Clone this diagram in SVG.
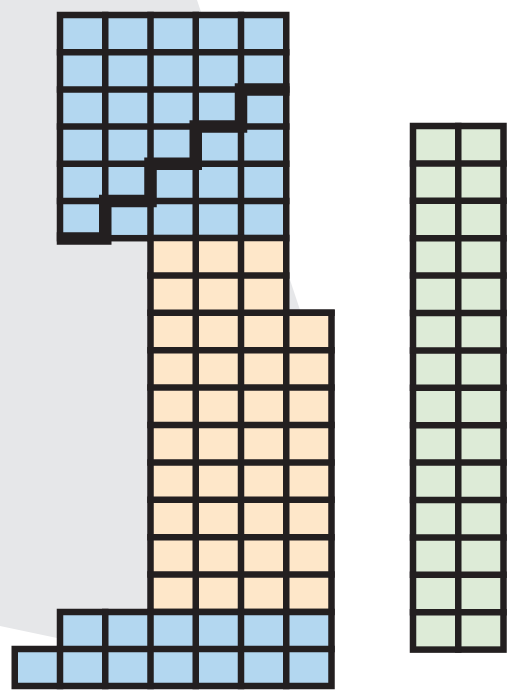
<svg xmlns="http://www.w3.org/2000/svg" width="511" height="697" viewBox="0 0 511 697">
<style>
.ln{fill:none;stroke:#231f20;stroke-width:6.5;stroke-linecap:square}
.blue{fill:#b3d7f0;stroke:#231f20;stroke-width:6.5;stroke-linejoin:miter}
.peach{fill:#fee7c9;stroke:#231f20;stroke-width:6.5;stroke-linejoin:miter}
.green{fill:#ddebd7;stroke:#231f20;stroke-width:6.5;stroke-linejoin:miter}
</style>
<rect x="0" y="0" width="511" height="697" fill="#ffffff"/>
<polygon id="background" points="0,0 197,0 310,340 200,660 57,638 0,626" fill="#e6e7e9"/>
<g id="blue-top">
<rect class="blue" x="60" y="15" width="226.25" height="223.2"/>
<path class="ln" d="M105.25,15V238.2M150.5,15V238.2M195.75,15V238.2M241,15V238.2M60,52.2H286.25M60,89.4H286.25M60,126.6H286.25M60,163.8H286.25M60,201H286.25"/>
</g>
<g id="peach">
<polygon class="peach" points="150.5,238 286.25,238 286.25,312.8 331.5,312.8 331.5,612 150.5,612"/>
<path class="ln" d="M195.75,238V612M241,238V612M286.25,312.8V612M150.5,275.4H286.25M150.5,312.8H331.5M150.5,350.2H331.5M150.5,387.6H331.5M150.5,425H331.5M150.5,462.4H331.5M150.5,499.8H331.5M150.5,537.2H331.5M150.5,574.6H331.5"/>
</g>
<g id="blue-bottom">
<polygon class="blue" points="60,612 331.5,612 331.5,686 14.75,686 14.75,649 60,649"/>
<path class="ln" d="M105.25,612V686M150.5,612V686M195.75,612V686M241,612V686M286.25,612V686M60,649V686M60,649H331.5"/>
</g>
<g id="green">
<rect class="green" x="413" y="126" width="90.5" height="523.6"/>
<path class="ln" d="M458.25,126V649.6M413,163.4H503.5M413,200.8H503.5M413,238.2H503.5M413,275.6H503.5M413,313H503.5M413,350.4H503.5M413,387.8H503.5M413,425.2H503.5M413,462.6H503.5M413,500H503.5M413,537.4H503.5M413,574.8H503.5M413,612.2H503.5"/>
</g>
<g id="staircase">
<path d="M56.75,238.5H105.25V201H150.5V163.8H195.75V126.6H241V89.4H289.5" fill="none" stroke="#231f20" stroke-width="12.5" stroke-linejoin="miter"/>
</g>
</svg>
